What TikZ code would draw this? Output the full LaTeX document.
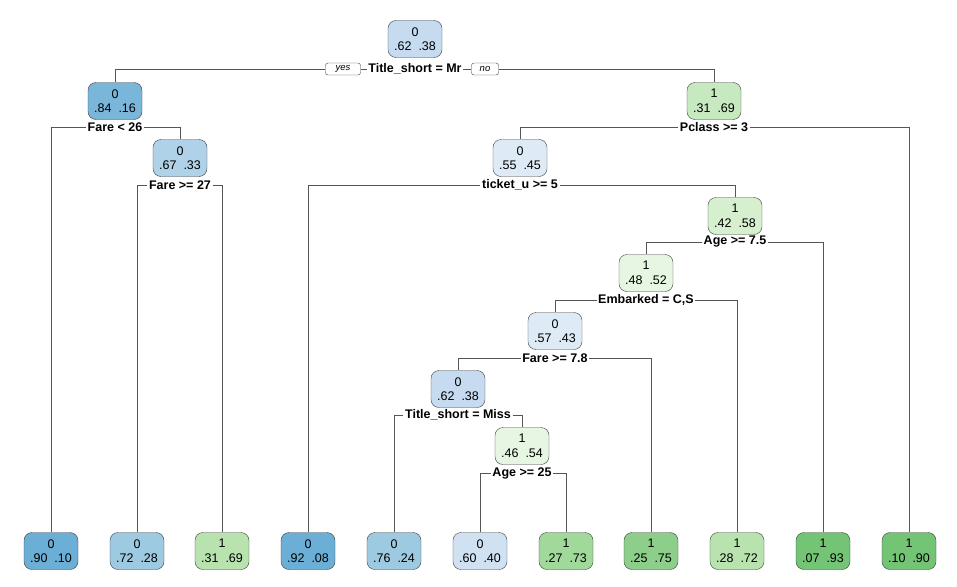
\documentclass[tikz,border=0pt]{standalone}
\usepackage{fontspec}
\setmainfont{Liberation Sans}
\usetikzlibrary{positioning}

\definecolor{edgecol}{RGB}{85,85,85}
\definecolor{framecol}{RGB}{60,60,60}
% blues (class 0)
\definecolor{bA}{RGB}{107,174,214}
\definecolor{bB}{RGB}{122,182,218}
\definecolor{bC}{RGB}{158,202,225}
\definecolor{bD}{RGB}{175,210,232}
\definecolor{bE}{RGB}{198,219,239}
\definecolor{bF}{RGB}{208,225,242}
\definecolor{bG}{RGB}{222,235,247}
% greens (class 1)
\definecolor{gA}{RGB}{116,196,118}
\definecolor{gB}{RGB}{140,206,138}
\definecolor{gC}{RGB}{161,217,155}
\definecolor{gD}{RGB}{184,227,175}
\definecolor{gE}{RGB}{199,233,192}
\definecolor{gF}{RGB}{214,239,207}
\definecolor{gG}{RGB}{231,246,227}

\tikzset{
    tbox/.style={draw=framecol, fill=#1, rounded corners=8pt, minimum width=54pt,
        minimum height=37pt, inner sep=1pt, align=center,
        font=\fontsize{12.5}{14.5}\selectfont},
    split/.style={fill=white, inner sep=1.5pt, font=\bfseries\fontsize{12.5}{14}\selectfont},
    yesno/.style={draw=framecol, fill=white, rounded corners=2.5pt, inner sep=1pt,
        minimum height=12pt, font=\itshape\fontsize{9.5}{10}\selectfont},
    conn/.style={draw=edgecol, line width=0.7pt},
}
\newcommand{\pr}[3]{#1\\#2\hspace{7pt}#3}

\begin{document}
\begin{tikzpicture}[x=1pt, y=-1pt]
    \useasboundingbox (0,0) rectangle (957,586);

    % inner nodes
    \node [tbox=bE] (n1)  at (415,39)  {\pr{0}{.62}{.38}};
    \node [tbox=bB] (n2)  at (115,101) {\pr{0}{.84}{.16}};
    \node [tbox=gE] (n3)  at (714,101) {\pr{1}{.31}{.69}};
    \node [tbox=bD] (n4)  at (180,158) {\pr{0}{.67}{.33}};
    \node [tbox=bG] (n5)  at (520,158) {\pr{0}{.55}{.45}};
    \node [tbox=gF] (n6)  at (735,216) {\pr{1}{.42}{.58}};
    \node [tbox=gG] (n7)  at (646,273) {\pr{1}{.48}{.52}};
    \node [tbox=bG] (n8)  at (555,331) {\pr{0}{.57}{.43}};
    \node [tbox=bE] (n9)  at (458,389) {\pr{0}{.62}{.38}};
    \node [tbox=gG] (n10) at (522,446) {\pr{1}{.46}{.54}};

    % leaves
    \node [tbox=bA] (l1)  at (51,551)  {\pr{0}{.90}{.10}};
    \node [tbox=bC] (l2)  at (137,551) {\pr{0}{.72}{.28}};
    \node [tbox=gD] (l3)  at (222,551) {\pr{1}{.31}{.69}};
    \node [tbox=bA] (l4)  at (308,551) {\pr{0}{.92}{.08}};
    \node [tbox=bC] (l5)  at (394,551) {\pr{0}{.76}{.24}};
    \node [tbox=bF] (l6)  at (480,551) {\pr{0}{.60}{.40}};
    \node [tbox=gC] (l7)  at (566,551) {\pr{1}{.27}{.73}};
    \node [tbox=gB] (l8)  at (651,551) {\pr{1}{.25}{.75}};
    \node [tbox=gD] (l9)  at (737,551) {\pr{1}{.28}{.72}};
    \node [tbox=gA] (l10) at (823,551) {\pr{1}{.07}{.93}};
    \node [tbox=gA] (l11) at (909,551) {\pr{1}{.10}{.90}};

    % split labels
    \node [split] (s1)  at (415,69)  {Title\_short = Mr};
    \node [split] (s2)  at (115,127) {Fare < 26};
    \node [split] (s3)  at (714,127) {Pclass >= 3};
    \node [split] (s4)  at (180,185) {Fare >= 27};
    \node [split] (s5)  at (520,185) {ticket\_u >= 5};
    \node [split] (s6)  at (735,242) {Age >= 7.5};
    \node [split] (s7)  at (646,300) {Embarked = C,S};
    \node [split] (s8)  at (555,358) {Fare >= 7.8};
    \node [split] (s9)  at (458,415) {Title\_short = Miss};
    \node [split] (s10) at (522,473) {Age >= 25};

    \node [yesno, minimum width=35pt] (yes) at (343,69) {yes};
    \node [yesno, minimum width=27pt] (no)  at (485,69) {no};

    % connectors
    \draw [conn] (s1.west) -- (yes.east);
    \draw [conn] (yes.west) -| (n2.north);
    \draw [conn] (s1.east) -- (no.west);
    \draw [conn] (no.east) -| (n3.north);
    \draw [conn] (s2.west) -| (l1.north);  \draw [conn] (s2.east) -| (n4.north);
    \draw [conn] (s3.west) -| (n5.north);  \draw [conn] (s3.east) -| (l11.north);
    \draw [conn] (s4.west) -| (l2.north);  \draw [conn] (s4.east) -| (l3.north);
    \draw [conn] (s5.west) -| (l4.north);  \draw [conn] (s5.east) -| (n6.north);
    \draw [conn] (s6.west) -| (n7.north);  \draw [conn] (s6.east) -| (l10.north);
    \draw [conn] (s7.west) -| (n8.north);  \draw [conn] (s7.east) -| (l9.north);
    \draw [conn] (s8.west) -| (n9.north);  \draw [conn] (s8.east) -| (l8.north);
    \draw [conn] (s9.west) -| (l5.north);  \draw [conn] (s9.east) -| (n10.north);
    \draw [conn] (s10.west) -| (l6.north); \draw [conn] (s10.east) -| (l7.north);
\end{tikzpicture}
\end{document}
